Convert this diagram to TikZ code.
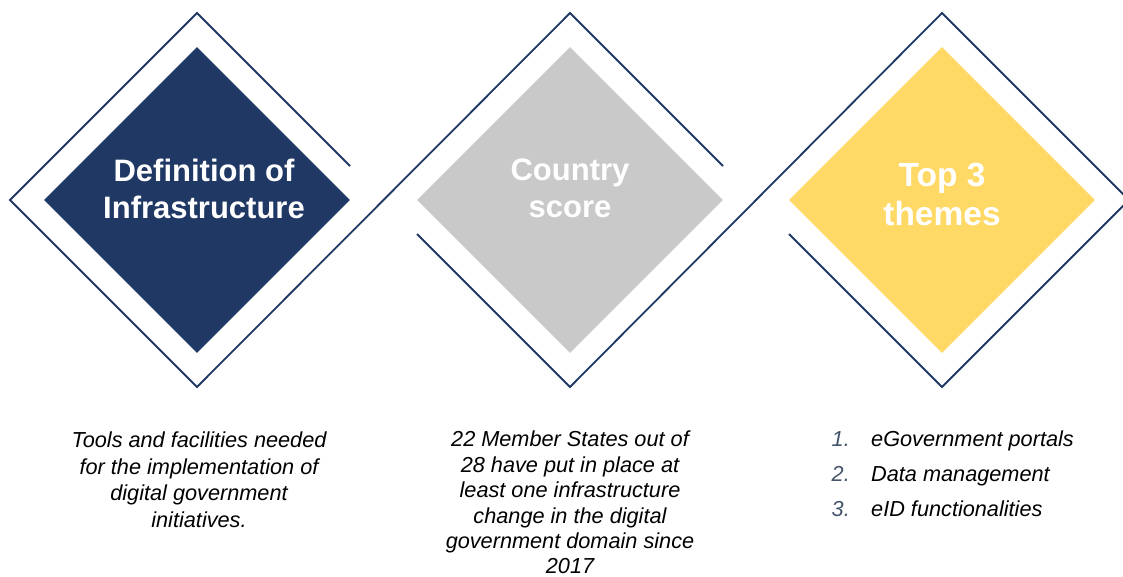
\documentclass[tikz,border=0pt]{standalone}
\usepackage{fontspec}
\setmainfont{Liberation Sans}
\usetikzlibrary{shapes.geometric}

\definecolor{navy}{RGB}{32,56,100}
\definecolor{scoregray}{RGB}{201,201,201}
\definecolor{themeyellow}{RGB}{255,217,102}
\definecolor{numgray}{RGB}{68,84,106}

\begin{document}
\begin{tikzpicture}[x=1pt,y=-1pt,
  box/.style={shape=diamond,aspect=1,minimum size=306,inner sep=0},
  title/.style={text=white,font=\bfseries\fontsize{31}{37}\selectfont,align=center,inner sep=0,anchor=north},
  body/.style={font=\itshape\fontsize{21.7}{26.5}\selectfont,align=center,inner sep=0,anchor=north},
  num/.style={text=numgray,font=\itshape\fontsize{21.7}{26}\selectfont,inner sep=0,anchor=base east},
  item/.style={font=\itshape\fontsize{21.7}{26}\selectfont,inner sep=0,anchor=base west}]
\useasboundingbox (0,0) rectangle (1123,577);

% Diamonds
\node[box,fill=navy] (infra) at (197,200) {};
\node[box,fill=scoregray] (score) at (570,200) {};
\node[box,fill=themeyellow] (themes) at (942,200) {};

% Outline
\draw[navy,line width=1.8pt] (350,166) -- (197,13) -- (10,200) -- (197,387) -- (570,13) -- (723,166);
\draw[navy,line width=1.8pt] (417,234) -- (570,387) -- (942,13) -- (1129,200) -- (942,387) -- (789,234);

% Titles
\node[title] (infratitle) at (204,159) {Definition of\\Infrastructure};
\node[title] (scoretitle) at (570,159) {Country\\score};
\node[title,font=\bfseries\fontsize{33.5}{38.5}\selectfont] (themestitle) at (942,163) {Top 3\\themes};

% Texts below
\node[body] (infratext) at (199,432) {Tools and facilities needed\\for the implementation of\\digital government\\initiatives.};
\node[body,font=\itshape\fontsize{21.7}{25.4}\selectfont] (scoretext) at (570,431) {22 Member States out of\\28 have put in place at\\least one infrastructure\\change in the digital\\government domain since\\2017};

% Themes list
\foreach \t [count=\i] in {eGovernment portals, Data management, eID functionalities} {
    \node[num] (num\i) at (850,{446+35*(\i-1)}) {\i.};
    \node[item] (item\i) at (871,{446+35*(\i-1)}) {\t};
}
\end{tikzpicture}
\end{document}
